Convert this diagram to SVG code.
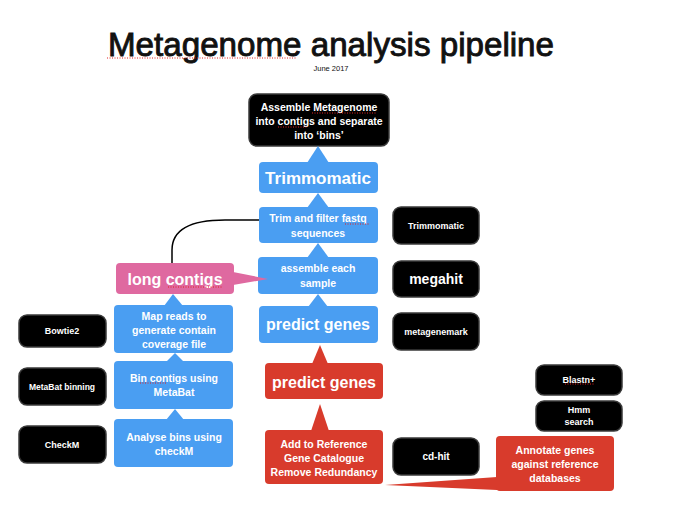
<svg xmlns="http://www.w3.org/2000/svg" width="680" height="517" viewBox="0 0 680 517">
<style>
text{font-family:"Liberation Sans",Arial,sans-serif;text-anchor:middle;fill:#fff;font-weight:bold}
.blue{fill:#4a9ef2}
.red{fill:#d83b2c}
.pink{fill:#df69a0}
.blk{fill:#000;stroke:#3a3a3a;stroke-width:1.5}
.t11{font-size:10.5px}
.t16{font-size:16px}
.t9{font-size:9px}
.sq{stroke:#e02020;stroke-width:1;stroke-dasharray:1 1.5;fill:none}
</style>
<rect width="680" height="517" fill="#fff"/>
<g id="title">
<text x="331" y="56" style="font-size:33px;fill:#111;font-weight:normal;stroke:#111;stroke-width:0.9" textLength="446" lengthAdjust="spacingAndGlyphs">Metagenome analysis pipeline</text>
<text x="331" y="71" style="font-size:7.5px;fill:#111;font-weight:normal">June 2017</text>
</g>
<g id="connectors">
<path d="M172,263 L172,250 C172,230 190,220 225,220 L259,220" fill="none" stroke="#000" stroke-width="1.5"/>
</g>
<g id="assemble-metagenome">
<rect class="blk" x="249" y="94" width="140" height="52" rx="8"/>
<text class="t11" x="319" y="111">Assemble Metagenome</text>
<text class="t11" x="319" y="125">into contigs and separate</text>
<text class="t11" x="319" y="139">into ‘bins’</text>
</g>
<g id="trimmomatic">
<polygon class="blue" points="307,163 318,146 329,163"/>
<rect class="blue" x="259" y="162" width="119" height="31" rx="4"/>
<text x="318" y="184" style="font-size:17px">Trimmomatic</text>
</g>
<g id="trim-filter">
<polygon class="blue" points="307,208 318,193 329,208"/>
<rect class="blue" x="259" y="207" width="119" height="36" rx="4"/>
<text class="t11" x="318" y="222">Trim and filter fastq</text>
<text class="t11" x="318" y="237">sequences</text>
</g>
<g id="assemble-sample">
<polygon class="blue" points="307,258 318,243 329,258"/>
<rect class="blue" x="258" y="257" width="120" height="37" rx="4"/>
<text class="t11" x="318" y="272">assemble each</text>
<text class="t11" x="318" y="287">sample</text>
</g>
<g id="predict-genes-blue">
<polygon class="blue" points="308,307 318,294 328,307"/>
<rect class="blue" x="259" y="306" width="119" height="37" rx="4"/>
<text class="t16" x="318" y="330">predict genes</text>
</g>
<g id="predict-genes-red">
<polygon class="red" points="312,364 320,345 328,364"/>
<rect class="red" x="265" y="363" width="118" height="36" rx="4"/>
<text class="t16" x="324" y="388">predict genes</text>
</g>
<g id="add-reference">
<polygon class="red" points="311,431 320,404 329,431"/>
<rect class="red" x="265" y="430" width="118" height="54" rx="4"/>
<text class="t11" x="324" y="448">Add to Reference</text>
<text class="t11" x="324" y="462">Gene Catalogue</text>
<text class="t11" x="324" y="476">Remove Redundancy</text>
</g>
<g id="annotate">
<polygon class="red" points="497,477 385,485 497,490"/>
<rect class="red" x="496" y="436" width="118" height="55" rx="4"/>
<text class="t11" x="555" y="454">Annotate genes</text>
<text class="t11" x="555" y="468">against reference</text>
<text class="t11" x="555" y="482">databases</text>
</g>
<g id="long-contigs">
<polygon class="pink" points="233,272 268,279 233,285"/>
<rect class="pink" x="116" y="263" width="118" height="31" rx="4"/>
<text class="t16" x="175" y="285">long contigs</text>
</g>
<g id="map-reads">
<polygon class="blue" points="164,306 173,294 183,306"/>
<rect class="blue" x="114" y="305" width="119" height="48" rx="4"/>
<text class="t11" x="174" y="320">Map reads to</text>
<text class="t11" x="174" y="334">generate contain</text>
<text class="t11" x="174" y="348">coverage file</text>
</g>
<g id="bin-contigs">
<polygon class="blue" points="166,362 175,353 184,362"/>
<rect class="blue" x="114" y="361" width="119" height="48" rx="4"/>
<text class="t11" x="174" y="382">Bin contigs using</text>
<text class="t11" x="174" y="396">MetaBat</text>
</g>
<g id="analyse-bins">
<polygon class="blue" points="166,420 175,409 184,420"/>
<rect class="blue" x="114" y="419" width="119" height="48" rx="4"/>
<text class="t11" x="174" y="441">Analyse bins using</text>
<text class="t11" x="174" y="455">checkM</text>
</g>
<g id="bowtie2">
<rect class="blk" x="19" y="315" width="87" height="32" rx="8"/>
<text class="t9" x="62" y="334">Bowtie2</text>
</g>
<g id="metabat">
<rect class="blk" x="19" y="368" width="87" height="37" rx="8"/>
<text class="t9" x="62" y="390" style="font-size:8.5px">MetaBat binning</text>
</g>
<g id="checkm">
<rect class="blk" x="19" y="426" width="87" height="37" rx="8"/>
<text class="t9" x="62" y="448">CheckM</text>
</g>
<g id="trimmomatic-tool">
<rect class="blk" x="393" y="207" width="86" height="37" rx="8"/>
<text class="t9" x="436" y="229">Trimmomatic</text>
</g>
<g id="megahit">
<rect class="blk" x="393" y="261" width="86" height="36" rx="8"/>
<text x="436" y="284" style="font-size:14px">megahit</text>
</g>
<g id="metagenemark">
<rect class="blk" x="393" y="313" width="86" height="37" rx="8"/>
<text class="t9" x="436" y="335">metagenemark</text>
</g>
<g id="cd-hit">
<rect class="blk" x="393" y="438" width="86" height="37" rx="8"/>
<text x="436" y="460" style="font-size:10px">cd-hit</text>
</g>
<g id="blastn">
<rect class="blk" x="536" y="365" width="86" height="30" rx="8"/>
<text class="t9" x="579" y="383">Blastn+</text>
</g>
<g id="hmm">
<rect class="blk" x="536" y="401" width="86" height="30" rx="8"/>
<text class="t9" x="579" y="413">Hmm</text>
<text class="t9" x="579" y="425">search</text>
</g>
<g id="spellcheck">
<path class="sq" d="M107,58 H296"/>
<path class="sq" d="M312,113 H377"/>
<path class="sq" d="M278,127 H308"/>
<path class="sq" d="M345,224 H370"/>
<path class="sq" d="M168,287 H222"/>
<path class="sq" d="M140,383 H166"/>
<path class="sq" d="M565,384 H595"/>
</g>
</svg>
